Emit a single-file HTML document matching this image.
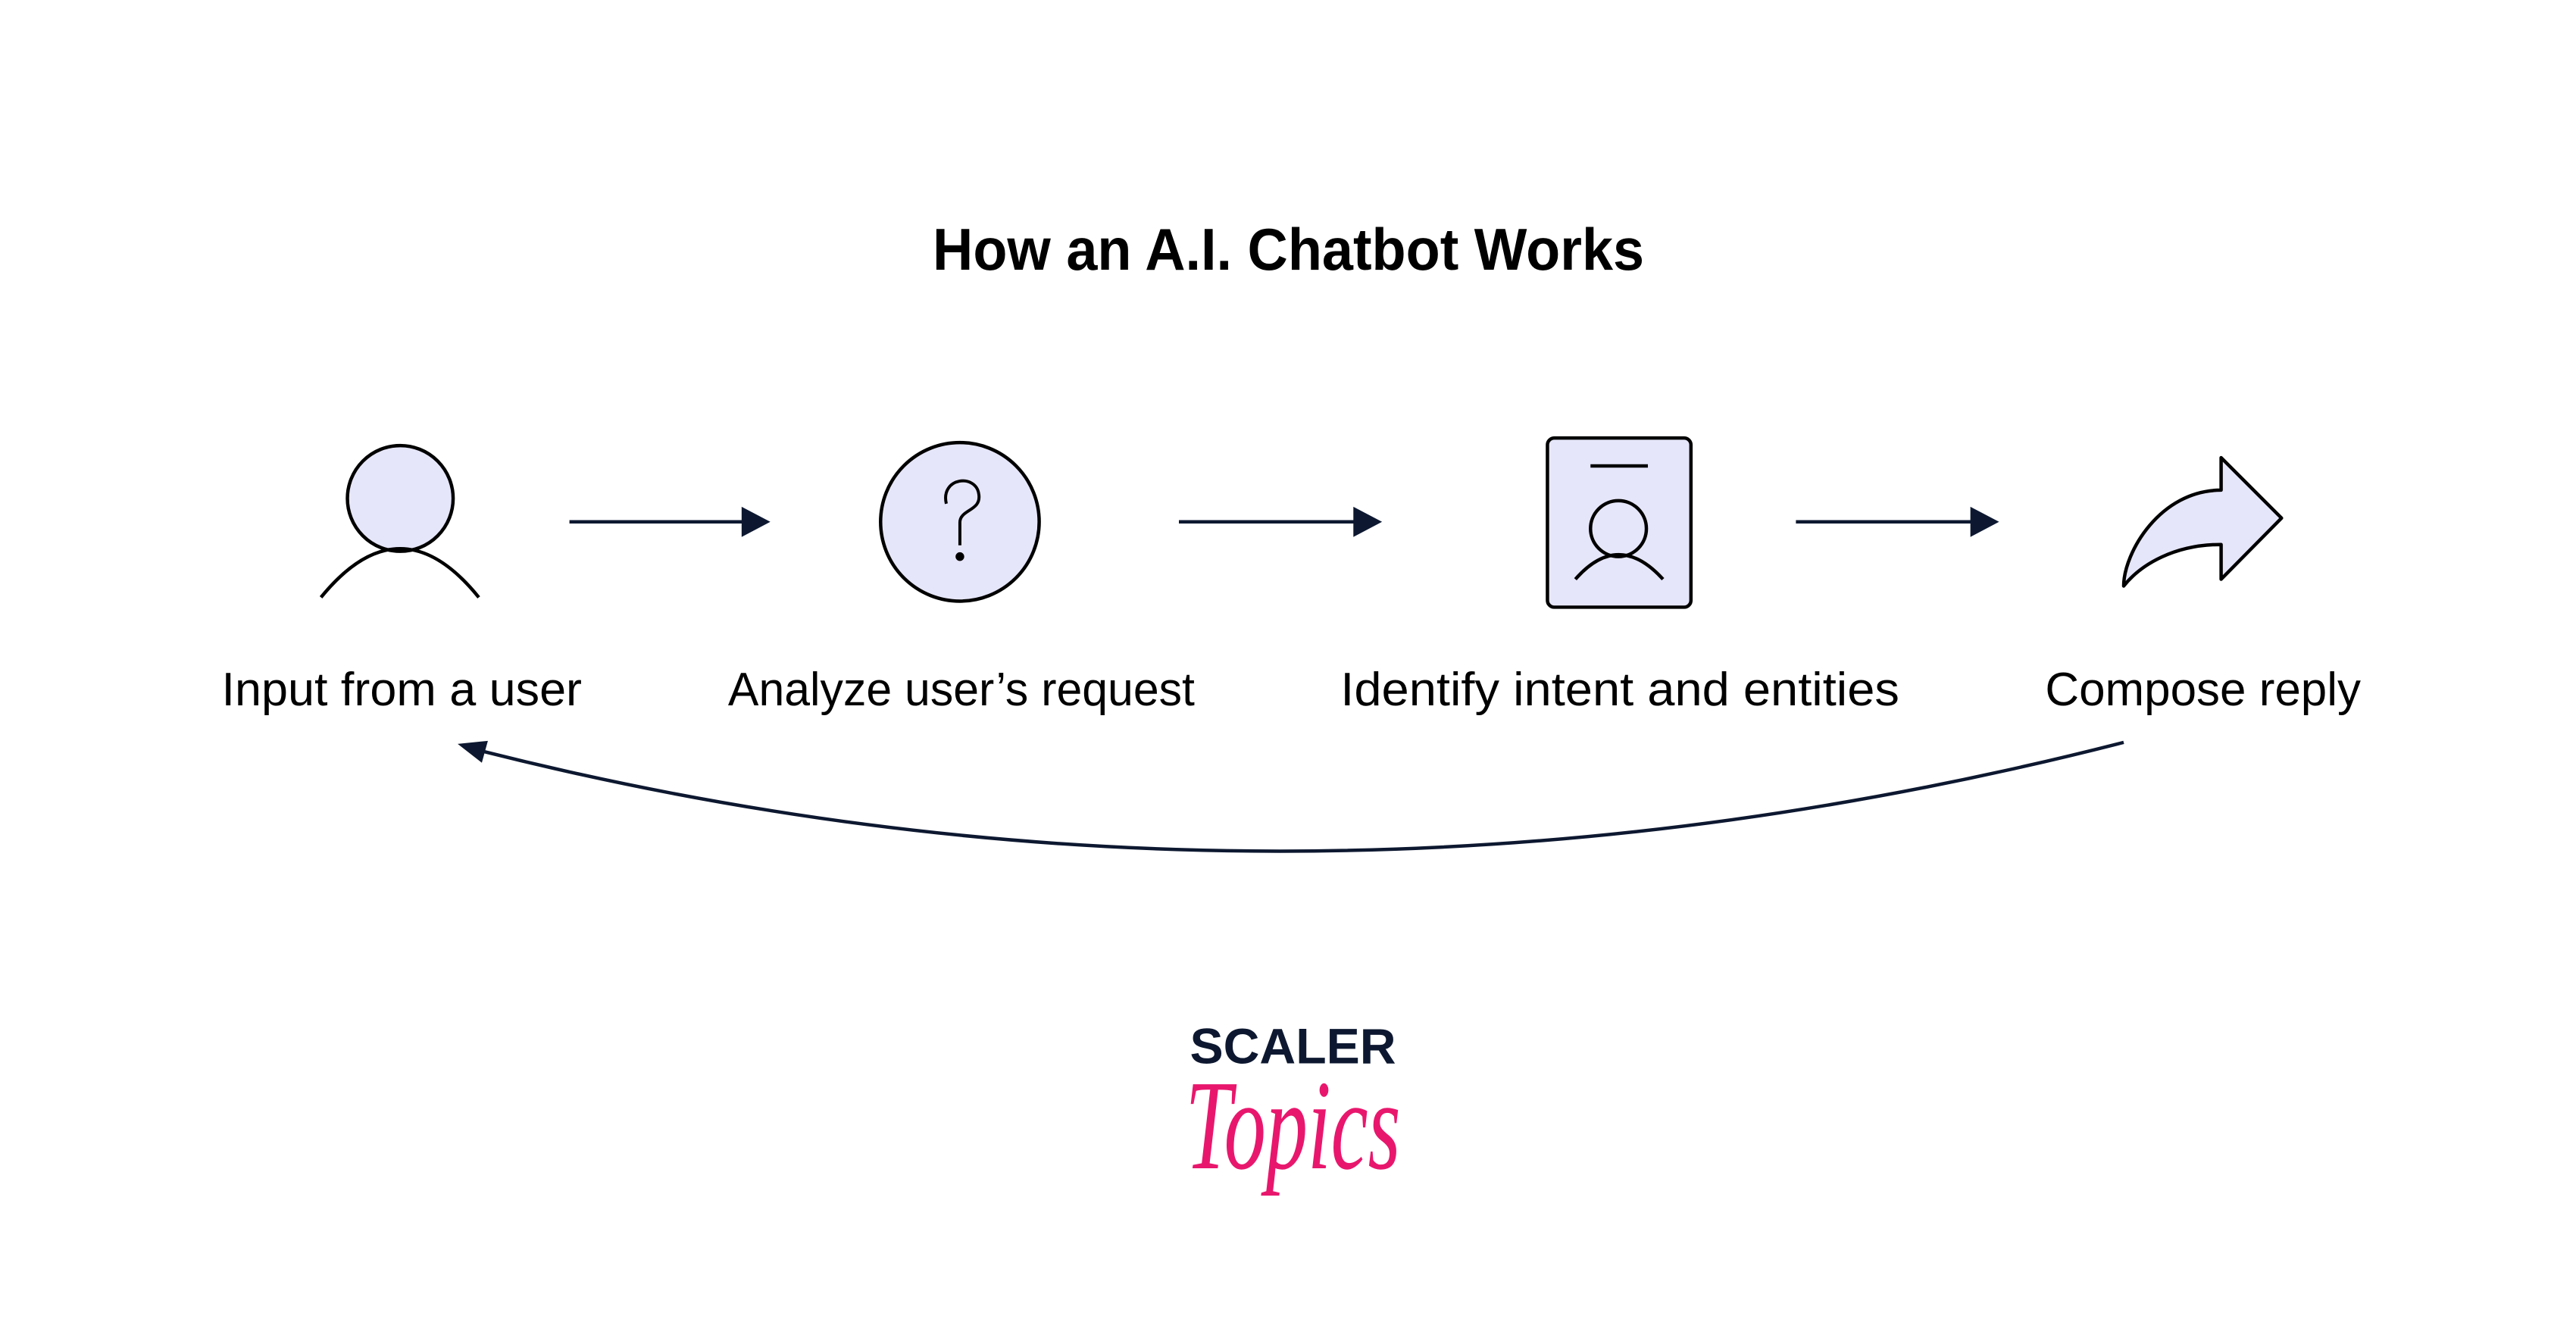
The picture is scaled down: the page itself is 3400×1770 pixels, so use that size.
<!DOCTYPE html>
<html><head><meta charset="utf-8"><style>
html,body{margin:0;padding:0;background:#fff;}
svg{display:block;}
</style></head><body>
<svg width="3400" height="1770" viewBox="0 0 3400 1770" xmlns="http://www.w3.org/2000/svg">
<rect width="3400" height="1770" fill="#fff"/>
<g transform="translate(0,2) scale(0.9968)">
<text x="1706" y="355" text-anchor="middle" font-family="Liberation Sans, sans-serif" font-weight="bold" font-size="78" textLength="942" lengthAdjust="spacingAndGlyphs" fill="#000">How an A.I. Chatbot Works</text>

<g stroke="#000" stroke-width="4.5" fill="#e6e6fa">
<circle cx="530" cy="658" r="70"/>
<path d="M425 789 Q530 660 634 789" fill="none"/>
<circle cx="1271" cy="689" r="105"/>
<path d="M1253 665 C1245 630 1292 625 1296 652 C1300 675 1271 672 1271 690 L1271 720" fill="none" stroke-width="4"/>
<circle cx="1271" cy="735" r="3.5" fill="#000"/>
<rect x="2049" y="578" width="190" height="224" rx="9"/>
<line x1="2106" y1="615" x2="2182" y2="615"/>
<circle cx="2143" cy="698" r="37"/>
<path d="M2086 765 Q2143 700 2202 765" fill="none"/>
<path d="M2941 647 L2941 604 L3021 684 L2941 765 L2941 719 C2880 719 2835 745 2812 774 C2812 730 2860 647 2941 647 Z" stroke-linejoin="round"/>
</g>

<g stroke="#0d1830" stroke-width="4.5" fill="#0d1830">
<line x1="754" y1="689" x2="985" y2="689"/>
<polygon points="982,669 1020,689 982,709" stroke="none"/>
<line x1="1561" y1="689" x2="1795" y2="689"/>
<polygon points="1792,669 1830,689 1792,709" stroke="none"/>
<line x1="2378" y1="689" x2="2612" y2="689"/>
<polygon points="2609,669 2647,689 2609,709" stroke="none"/>
<path d="M2812 981 Q1711 1263 640 993" fill="none"/>
<polygon points="606,983 646,979 638,1008" stroke="none"/>
</g>

<g font-family="Liberation Sans, sans-serif" font-size="62" fill="#000" text-anchor="middle">
<text x="532" y="932" textLength="477" lengthAdjust="spacingAndGlyphs">Input from a user</text>
<text x="1273" y="932" textLength="618" lengthAdjust="spacingAndGlyphs">Analyze user’s request</text>
<text x="2145" y="932" textLength="740" lengthAdjust="spacingAndGlyphs">Identify intent and entities</text>
<text x="2917" y="932" textLength="418" lengthAdjust="spacingAndGlyphs">Compose reply</text>
</g>

<text x="1712" y="1406" text-anchor="middle" font-family="Liberation Sans, sans-serif" font-weight="bold" font-size="66" textLength="273" lengthAdjust="spacingAndGlyphs" fill="#0d1830">SCALER</text>
<text x="1712" y="1545" text-anchor="middle" font-family="Liberation Serif, serif" font-style="italic" font-size="170" textLength="285" lengthAdjust="spacingAndGlyphs" fill="#e8176d">Topics</text>
</g>
</svg>
</body></html>
